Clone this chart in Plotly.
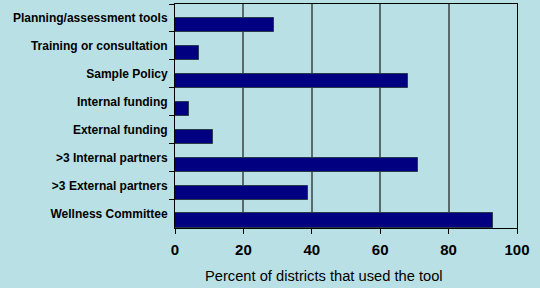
import plotly.graph_objects as go

categories = ["Planning/assessment tools", "Training or consultation", "Sample Policy",
              "Internal funding", "External funding", ">3 Internal partners",
              ">3 External partners", "Wellness Committee"]
values = [29, 7, 68, 4, 11, 71, 39, 93]
x_ticks = [0, 20, 40, 60, 80, 100]
x_title = "Percent of districts that used the tool"

bg = "#B9E0E4"
fig = go.Figure(go.Bar(
    x=values, y=categories, orientation="h",
    width=0.52, offset=0,
    marker=dict(color="#000080", line=dict(color="#2a3a4a", width=1)),
))
fig.update_layout(
    width=540, height=288,
    margin=dict(l=175, r=23, t=4, b=60),
    paper_bgcolor=bg, plot_bgcolor=bg,
    font=dict(family="Liberation Sans, Arial", color="black"),
    showlegend=False,
    bargap=0,
)
fig.update_xaxes(
    range=[0, 100], tickvals=x_ticks, ticks="outside", ticklen=5, tickcolor="black",
    showgrid=True, gridcolor="#5a6a6c", gridwidth=1.5,
    showline=True, linecolor="black", linewidth=1, mirror=True,
    tickfont=dict(size=15, weight="bold"),
    ticklabelstandoff=3,
    zeroline=False,
)
fig.update_yaxes(
    autorange="reversed", type="category",
    ticks="outside", tickson="boundaries", ticklen=5, tickcolor="black",
    showline=True, linecolor="black", linewidth=1, mirror=True,
    showgrid=False,
    tickfont=dict(size=12, weight="bold"),
    ticklabelstandoff=4,
)
fig.add_annotation(
    text=x_title, xref="paper", yref="paper", x=0.436, y=-0.214,
    xanchor="center", yanchor="middle", showarrow=False,
    font=dict(size=14.7, color="black"),
)
fig.write_html("out.html", config={"displayModeBar": False},
               post_script="document.body.style.margin='0';document.body.style.background='%s';" % bg)
